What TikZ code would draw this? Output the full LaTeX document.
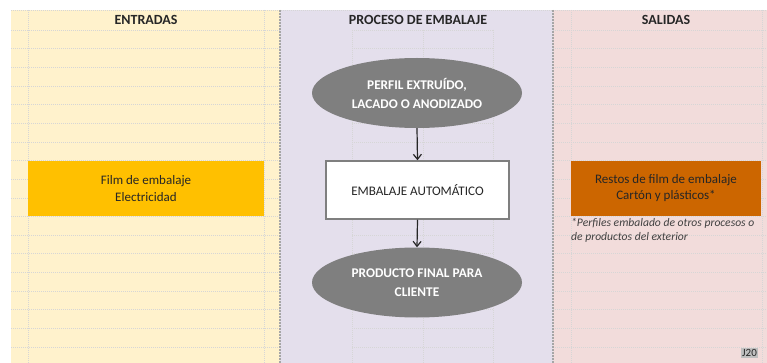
\documentclass[tikz,border=0pt]{standalone}
\usepackage{fontspec}
\setmainfont{Carlito}
\usetikzlibrary{arrows.meta,shapes.geometric}
\definecolor{pIn}{HTML}{FFF2CC}
\definecolor{pProc}{HTML}{E4DFEC}
\definecolor{pOut}{HTML}{F2DCDB}
\definecolor{boxIn}{HTML}{FFC000}
\definecolor{boxOut}{HTML}{CC6600}
\definecolor{ellg}{HTML}{7F7F7F}
\definecolor{gridc}{HTML}{D6D6D6}
\definecolor{sepc}{HTML}{A6A6A6}
\definecolor{txt}{HTML}{262626}
\definecolor{notec}{HTML}{404040}
\begin{document}
\begin{tikzpicture}[x=1pt,y=-1pt,
  gridline/.style={draw=gridc, line width=0.5pt, dash pattern=on 1pt off 1pt},
  sepline/.style={draw=sepc, line width=1.6pt, dash pattern=on 2pt off 1pt},
  hdr/.style={font=\fontsize{14}{16}\selectfont\bfseries, text=txt},
  inbox/.style={fill=boxIn, minimum width=236pt, minimum height=55.5pt, inner sep=0pt, align=center, font=\fontsize{13}{17}\selectfont, text=txt},
  outbox/.style={fill=boxOut, minimum width=190pt, minimum height=55.5pt, inner sep=0pt, align=center, font=\fontsize{13}{16}\selectfont, text=txt},
  ell/.style={ellipse, fill=ellg, minimum width=210pt, minimum height=70pt, inner sep=0pt, align=center, text=white, font=\fontsize{13.3}{19}\selectfont\bfseries},
  procbox/.style={draw=ellg, line width=1.5pt, fill=white, minimum width=183pt, minimum height=58pt, inner sep=0pt, align=center, font=\fontsize{13.1}{15}\selectfont, text=txt},
  arr/.style={draw=black!85, line width=1.2pt, -{Straight Barb[length=5pt,width=8pt]}},
  note/.style={anchor=north west, align=left, inner sep=0pt, font=\fontsize{11.6}{14}\selectfont\itshape, text=notec}
]
\useasboundingbox (0,0) rectangle (767,363);
\fill[white] (0,0) rectangle (767,363);
\fill[pIn] (11,10) rectangle (280,363);
\fill[pProc] (280,10) rectangle (553,363);
\fill[pOut] (553,10) rectangle (767,363);
% grid
\draw[gridline] (11,10) -- (767,10);
\foreach \k in {0,...,17}{
  \draw[gridline] (11,{30+18.64*\k}) -- (280,{30+18.64*\k});
  \draw[gridline] (352,{30+18.64*\k}) -- (493,{30+18.64*\k});
  \draw[gridline] (553,{30+18.64*\k}) -- (767,{30+18.64*\k});
}
\foreach \x in {28,264}{\draw[gridline] (\x,10) -- (\x,363);}
\foreach \x in {352,423,493}{\draw[gridline] (\x,30) -- (\x,363);}
\foreach \x in {571,762}{\draw[gridline] (\x,10) -- (\x,363);}
\draw[sepline] (280,10) -- (280,363);
\draw[sepline] (553,10) -- (553,363);
% headers
\node[hdr] (hIn) at (146,20) {ENTRADAS};
\node[hdr] (hProc) at (418,20) {PROCESO DE EMBALAJE};
\node[hdr] (hOut) at (666,20) {SALIDAS};
% boxes
\node[inbox] (in) at (146,188.3) {Film de embalaje\\Electricidad};
\node[outbox] (out) at (666,188.3) {Restos de film de embalaje\\Cartón y plásticos*};
\node[note] (nt) at (571,218) {*Perfiles embalado de otros procesos o\\de productos del exterior};
% process
\node[ell] (e1) at (417,93) {PERFIL EXTRUÍDO,\\LACADO O ANODIZADO};
\node[procbox] (pb) at (417.5,190) {EMBALAJE AUTOMÁTICO};
\node[ell] (e2) at (417,282.5) {PRODUCTO FINAL PARA\\CLIENTE};
\draw[arr] (e1.south) -- (pb.north);
\draw[arr] (pb.south) -- (e2.north);
% cell label
\node[fill=black!25, inner sep=1pt, font=\fontsize{11}{12}\selectfont, text=txt] (cell) at (749.5,353) {J20};
\end{tikzpicture}
\end{document}
